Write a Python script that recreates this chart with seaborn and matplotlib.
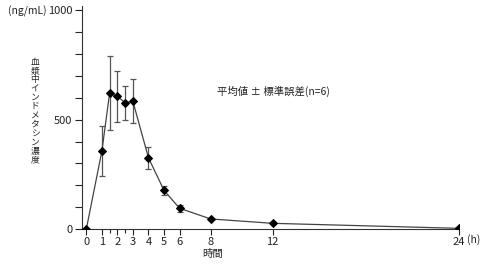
import matplotlib
matplotlib.use("Agg")
import matplotlib.pyplot as plt
import seaborn as sns
import pandas as pd
import numpy as np

# Data
hours = [0, 1, 1.5, 2, 2.5, 3, 4, 5, 6, 8, 12, 24]
conc = [0, 356, 622, 607, 578, 584, 326, 177, 95, 46, 26, 3]
err_upper = [0, 114, 168, 116, 75, 102, 47, 19, 15, 0, 0, 0]
err_lower = [0, 114, 167, 118, 77, 101, 51, 20, 16, 0, 0, 0]
x_tick_labels = ["0", "1", "2", "3", "4", "5", "6", "8", "12", "24"]
y_tick_labels = ["0", "500", "1000"]
ylabel_text = "血漿中インドメタシン濃度"
xlabel_text = "時間"
note_text = "平均値 ± 標準誤差(n=6)"

sns.set_style("ticks")
plt.rcParams['font.family'] = ['Noto Sans CJK JP', 'DejaVu Sans']

fig = plt.figure(figsize=(4.88, 2.65), dpi=100)
ax = fig.add_axes([82.3 / 488, 36 / 265, (459.3 - 82.3) / 488, (229 - 6) / 265])

df = pd.DataFrame({"h": hours, "c": conc})
ax.errorbar(hours, conc, yerr=[err_lower, err_upper], fmt="none",
            ecolor="#555555", elinewidth=0.9, capsize=2.2, capthick=0.9, zorder=2)
sns.lineplot(data=df, x="h", y="c", ax=ax, color="#444444", linewidth=0.9,
             marker="D", markersize=4.5, markerfacecolor="black",
             markeredgecolor="black", zorder=3)

ax.set_xlim(-0.26, 24.02)
ax.set_ylim(0, 1000 * (229 - 6) / 218.5)

ax.set_xticks([float(t) for t in x_tick_labels])
ax.set_xticklabels(x_tick_labels)
ax.set_xticks([1.5, 2.5], minor=True)
ax.set_yticks([float(t) for t in y_tick_labels])
ax.set_yticklabels(y_tick_labels)
ax.set_yticks(np.arange(100, 1000, 100), minor=True)

ax.tick_params(axis="both", which="major", direction="out", length=4, width=0.8,
               labelsize=8, colors="#222222", pad=2)
ax.tick_params(axis="both", which="minor", direction="out", length=3, width=0.8)
ax.tick_params(axis="y", which="both", length=5)

for s in ["top", "right"]:
    ax.spines[s].set_visible(False)
for s in ["left", "bottom"]:
    ax.spines[s].set_color("#333333")
    ax.spines[s].set_linewidth(0.8)

ax.set_xlabel("")
ax.set_ylabel("")

# axis texts
fig.text(213 / 488, (265 - 254) / 265, xlabel_text, ha="center", va="center",
         fontsize=7.5, color="#222222")
fig.text(35 / 488, (265 - 111) / 265, "\n".join(ylabel_text), ha="center",
         va="center", fontsize=6.3, linespacing=0.98, color="#222222")
fig.text(8 / 488, (265 - 11) / 265, "(ng/mL)", ha="left", va="center",
         fontsize=7.5, color="#222222")
fig.text(467 / 488, (265 - 240) / 265, "(h)", ha="left", va="center",
         fontsize=7.5, color="#222222")
fig.text(217 / 488, (265 - 91) / 265, note_text, ha="left", va="center",
         fontsize=7.5, color="#222222")

fig.savefig("out.png", dpi=100)
